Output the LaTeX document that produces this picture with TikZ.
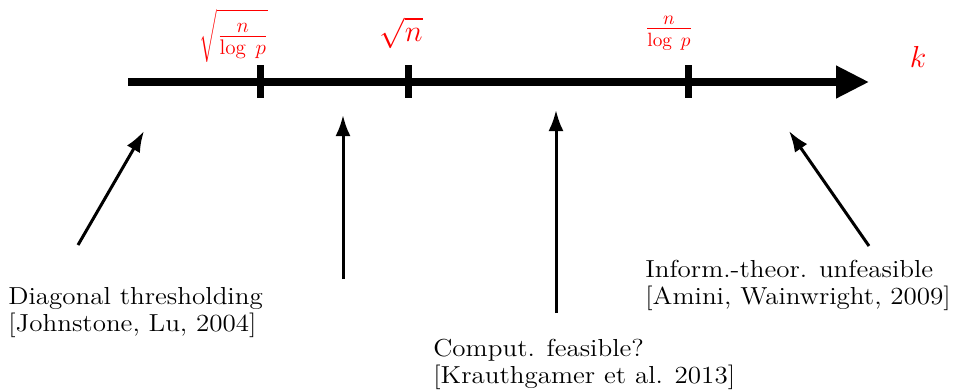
\documentclass[tikz,border=0pt]{standalone}
\usetikzlibrary{arrows.meta}
\begin{document}
\begin{tikzpicture}[x=0.02cm,y=-0.02cm,
  lbl/.style={anchor=base west,inner sep=0pt,font=\fontsize{14}{16}\selectfont},
  mlbl/.style={text=red,inner sep=0pt},
  tick/.style={line width=0.14cm},
  ptr/.style={line width=0.06cm,-{Latex[length=0.42cm,width=0.3cm]}}]
\useasboundingbox (0,0) rectangle (953,390);
% axis
\coordinate (a0) at (128,82);
\coordinate (a1) at (869,82);
\draw[line width=0.15cm,-{Triangle[length=0.66cm,width=0.62cm]}] (a0) -- (a1);
\coordinate (t1a) at (260,65); \coordinate (t1b) at (260,98);
\coordinate (t2a) at (408,65); \coordinate (t2b) at (408,98);
\coordinate (t3a) at (688,65); \coordinate (t3b) at (688,98);
\draw[tick] (t1a) -- (t1b);
\draw[tick] (t2a) -- (t2b);
\draw[tick] (t3a) -- (t3b);
% math labels
\node[mlbl,font=\fontsize{17}{20}\selectfont] (m1) at (234,36) {$\sqrt{\frac{n}{\log\;p}\vphantom{\bigg|}}$};
\node[mlbl,font=\fontsize{19}{22}\selectfont] (m2) at (401,33) {$\sqrt{n}$};
\node[mlbl,font=\fontsize{16}{19}\selectfont] (m3) at (669,33) {$\frac{n}{\log\;p}$};
\node[mlbl,font=\fontsize{18}{21}\selectfont] (mk) at (918,57) {$k$};
% text labels
\node[lbl] (d1) at (8,304) {\scalebox{1.1}[1]{Diagonal thresholding}};
\node[lbl] (d2) at (8,331) {\scalebox{1.1}[1]{[Johnstone, Lu, 2004]}};
\node[lbl] (c1) at (433,356) {\scalebox{1.1}[1]{Comput. feasible?}};
\node[lbl] (c2) at (433,383) {\scalebox{1.1}[1]{[Krauthgamer et al. 2013]}};
\node[lbl] (i1) at (645,277) {\scalebox{1.1}[1]{Inform.-theor. unfeasible}};
\node[lbl] (i2) at (645,304) {\scalebox{1.1}[1]{[Amini, Wainwright, 2009]}};
% pointers
\coordinate (p1s) at (78,245); \coordinate (p1e) at (144,131);
\coordinate (p2s) at (343,279); \coordinate (p2e) at (343,115);
\coordinate (p3s) at (556,313); \coordinate (p3e) at (556,110);
\coordinate (p4s) at (869,246); \coordinate (p4e) at (789,131);
\draw[ptr] (p1s) -- (p1e);
\draw[ptr] (p2s) -- (p2e);
\draw[ptr] (p3s) -- (p3e);
\draw[ptr] (p4s) -- (p4e);
\end{tikzpicture}
\end{document}
